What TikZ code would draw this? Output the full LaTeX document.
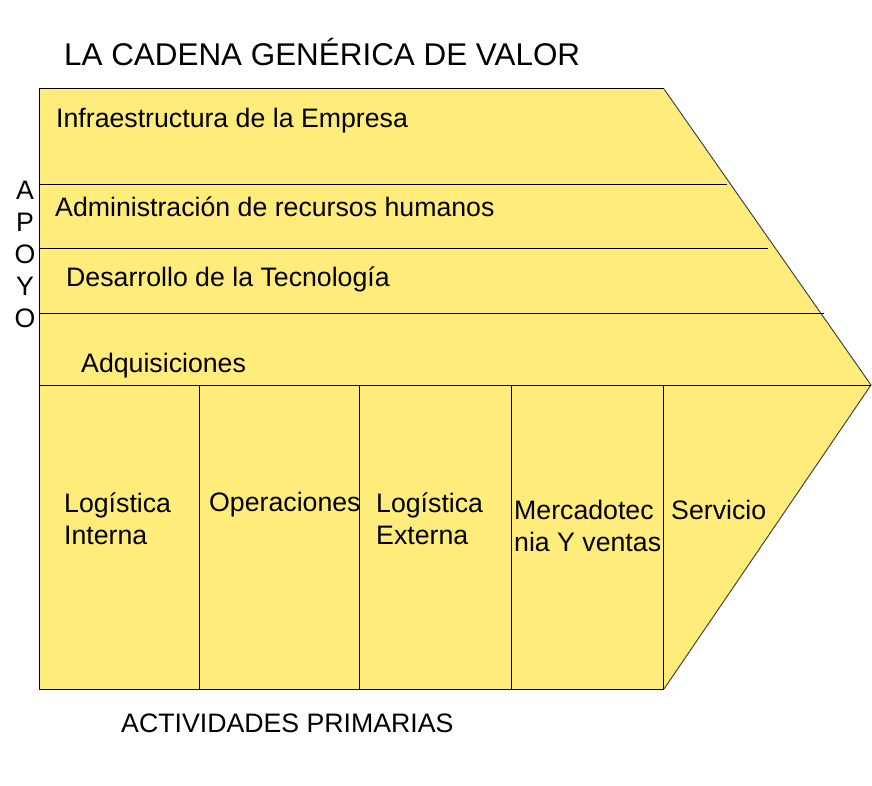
\documentclass[tikz,border=0pt]{standalone}
\usepackage{fontspec}
\setmainfont{Liberation Sans}
\definecolor{chainfill}{RGB}{255,236,122}
\definecolor{edgegray}{RGB}{70,70,70}
\begin{document}
\begin{tikzpicture}[x=1pt,y=-1pt,
  lbl/.style={anchor=base west,inner sep=0pt,font=\fontsize{26.7}{32}\selectfont},
  ttl/.style={anchor=base west,inner sep=0pt,font=\fontsize{31.4}{36}\selectfont},
  rule/.style={line width=1pt,black},
  slant/.style={line width=1pt,edgegray}]
\useasboundingbox (0,0) rectangle (872,786);
% body
\coordinate (tl) at (39,89);
\coordinate (tr) at (664,89);
\coordinate (tip) at (871,385);
\coordinate (br) at (664,689);
\coordinate (bl) at (39,689);
\fill[chainfill] (tl) -- (tr) -- (tip) -- (br) -- (bl) -- cycle;
\draw[rule] (br) -- (bl) -- (tl) -- (tr);
\draw[slant] (tr) -- (tip) -- (br);
% support rows
\draw[rule] (39,185) -- (727,185);
\draw[rule] (39,249) -- (768,249);
\draw[rule] (39,313) -- (824,313);
\draw[rule] (39,385) -- (tip);
% primary columns
\foreach \x in {199,359,511,663} \draw[rule] (\x,385) -- (\x,689);
% texts
\node[ttl] (title) at (64,66) {LA CADENA GENÉRICA DE VALOR};
\node[lbl] (infra) at (56,128) {Infraestructura de la Empresa};
\node[lbl] (rrhh) at (55,217) {Administración de recursos humanos};
\node[lbl] (tec) at (66,287) {Desarrollo de la Tecnología};
\node[lbl] (adq) at (81,372) {Adquisiciones};
\node[lbl] (li1) at (64,512) {Logística};
\node[lbl] (li2) at (64,544) {Interna};
\node[lbl] (ope) at (209,511) {Operaciones};
\node[lbl] (le1) at (376,512) {Logística};
\node[lbl] (le2) at (376,544) {Externa};
\node[lbl] (mv1) at (514,519) {Mercadotec};
\node[lbl] (mv2) at (514,551) {nia Y ventas};
\node[lbl] (serv) at (671,519) {Servicio};
\node[lbl] (prim) at (121,732) {ACTIVIDADES PRIMARIAS};
\node[lbl,anchor=base] (a1) at (25,200) {A};
\node[lbl,anchor=base] (a2) at (25,232) {P};
\node[lbl,anchor=base] (a3) at (25,264) {O};
\node[lbl,anchor=base] (a4) at (25,295) {Y};
\node[lbl,anchor=base] (a5) at (25,327) {O};
\end{tikzpicture}
\end{document}
